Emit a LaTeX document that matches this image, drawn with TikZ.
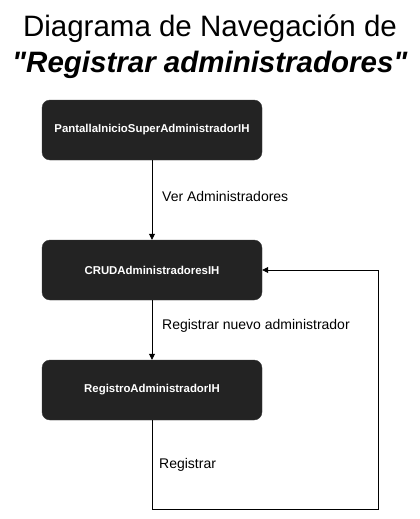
\documentclass[tikz,border=0pt]{standalone}
\usepackage{fontspec}
\setmainfont{Liberation Sans}
\newfontfamily\plainfont{Liberation Sans}[Ligatures=ResetAll]
\usetikzlibrary{arrows.meta}
\definecolor{boxfill}{HTML}{232323}
\definecolor{boxline}{HTML}{3A3A3A}
\tikzset{
  x=1pt,y=-1pt,
  screen/.style={draw=boxline, fill=boxfill, rounded corners=8pt, minimum width=220pt, minimum height=60pt, inner sep=0pt, text=white, font=\fontsize{11.4}{13}\selectfont\bfseries},
  flow/.style={draw=black, line width=0.8pt, -{Triangle[length=6pt,width=6pt]}},
  lbl/.style={anchor=west, font=\fontsize{14}{16}\selectfont, inner sep=0pt}
}
\begin{document}
\begin{tikzpicture}
\useasboundingbox (0,0) rectangle (420,519);
\node[font=\plainfont\fontsize{29.5}{36}\selectfont, align=center] (title) at (210,47) {Diagrama de Navegación de\\\textbf{\textit{"Registrar administradores"}}};
\node[screen] (p1) at (152,130) {PantallaInicioSuperAdministradorIH};
\node[screen] (p2) at (152,270) {CRUDAdministradoresIH};
\node[screen] (p3) at (152,390) {RegistroAdministradorIH};
\coordinate (c1) at (152,509);
\coordinate (c2) at (378,509);
\coordinate (c3) at (378,270);
\draw[flow] (p1) -- (p2);
\draw[flow] (p2) -- (p3);
\draw[flow] (p3.south) -- (c1) -- (c2) -- (c3) -- (p2.east);
\node[lbl] (l1) at (162,196) {Ver Administradores};
\node[lbl] (l2) at (162,326) {Registrar nuevo administrador};
\node[lbl] (l3) at (159,465) {Registrar};
\end{tikzpicture}
\end{document}
